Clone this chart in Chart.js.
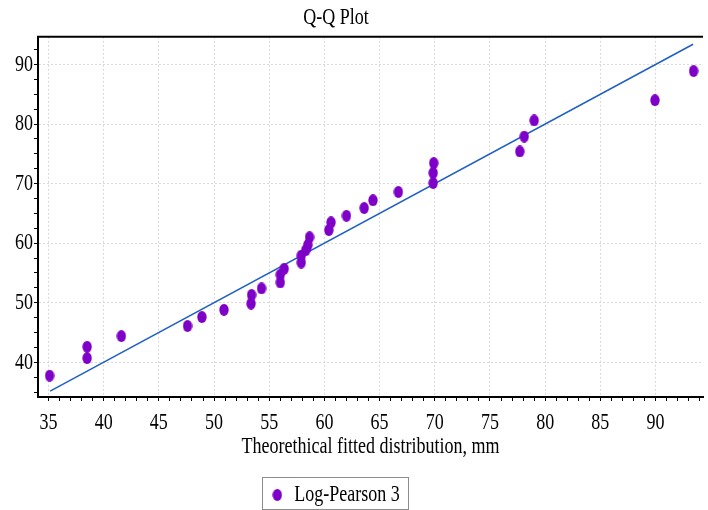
<!DOCTYPE html>
<html>
<head>
<meta charset="utf-8">
<script src="https://cdn.jsdelivr.net/npm/chart.js@4/dist/chart.umd.min.js"></script>
<style>
  html, body { margin: 0; padding: 0; background: #fff; }
  canvas { display: block; }
</style>
</head>
<body>
<canvas id="qq-chart" width="708" height="510"></canvas>
<script>
// theoretical quantiles (mm) and the observed values paired with them
const theoretical = [35.1, 38.5, 38.5, 41.6, 47.6, 48.9, 50.9, 53.35, 53.4, 54.3, 56.0, 56.0, 56.35, 57.9, 57.9, 58.3,
    58.5, 58.65, 60.4, 60.6, 62.0, 63.6, 64.4, 66.7, 69.85, 69.85, 69.9, 77.7, 78.1, 79.0, 89.95, 93.45];
const observed = [37.75, 40.7, 42.6, 44.4, 46.1, 47.6, 48.8, 49.85, 51.3, 52.4, 53.4, 54.7, 55.7, 56.75, 57.9, 58.8,
    59.7, 61.0, 62.2, 63.5, 64.6, 65.9, 67.2, 68.6, 70.1, 71.8, 73.45, 75.4, 77.9, 80.6, 84.0, 88.9];

// ends of the y = x reference line
const fitLine = [35.15, 93.4];

const xLabels = [35, 40, 45, 50, 55, 60, 65, 70, 75, 80, 85, 90];
const yLabels = [40, 50, 60, 70, 80, 90];

const POINT_COLOR = '#7e00c8';
const LINE_COLOR = '#1f5fc4';
const FONT = { family: '"Liberation Serif", "Times New Roman", serif', size: 24 };
const SQUEEZE = 0.75; // narrow serif look
const HEADER_CENTER = 336; // title and legend sit left of the plot centre

const canvas = document.getElementById('qq-chart');
const ctx = canvas.getContext('2d');

// draw all text horizontally condensed, and report widths to match
const nativeFill = ctx.fillText.bind(ctx);
const nativeMeasure = ctx.measureText.bind(ctx);
ctx.fillText = function (text, x, y, maxWidth) {
    this.save();
    this.translate(x, y);
    this.scale(SQUEEZE, 1);
    if (maxWidth !== undefined) nativeFill(text, 0, 0, maxWidth / SQUEEZE);
    else nativeFill(text, 0, 0);
    this.restore();
};
ctx.measureText = function (text) {
    const m = nativeMeasure(text);
    return {
        width: m.width * SQUEEZE,
        actualBoundingBoxAscent: m.actualBoundingBoxAscent,
        actualBoundingBoxDescent: m.actualBoundingBoxDescent,
        actualBoundingBoxLeft: m.actualBoundingBoxLeft * SQUEEZE,
        actualBoundingBoxRight: m.actualBoundingBoxRight * SQUEEZE
    };
};

// slightly tall oval marker
function makeMarker() {
    const c = document.createElement('canvas');
    c.width = 10;
    c.height = 12;
    const g = c.getContext('2d');
    g.fillStyle = POINT_COLOR;
    g.beginPath();
    g.ellipse(5, 6, 4.7, 5.9, 0, 0, Math.PI * 2);
    g.fill();
    return c;
}
const marker = makeMarker();

function stepTicks(from, to, step) {
    const out = [];
    for (let v = from; v <= to + 1e-9; v += step) out.push({ value: +v.toFixed(3) });
    return out;
}

const frame = {
    id: 'frame',
    afterLayout(chart) {
        // shift title and legend so they centre on HEADER_CENTER
        [chart.titleBlock, chart.legend].forEach(box => {
            if (!box) return;
            box.left = 0;
            box.right = HEADER_CENTER * 2;
        });
    },
    afterDraw(chart) {
        const { ctx, chartArea } = chart;
        ctx.save();
        ctx.strokeStyle = '#000';
        ctx.lineWidth = 2;
        ctx.beginPath();
        ctx.moveTo(chartArea.left - 1, chartArea.top);
        ctx.lineTo(chartArea.right, chartArea.top);
        ctx.stroke();

        // box round the legend
        const lg = chart.legend;
        if (lg && lg.legendHitBoxes && lg.legendHitBoxes.length) {
            const hb = lg.legendHitBoxes[0];
            ctx.strokeStyle = '#8c8c8c';
            ctx.lineWidth = 1;
            ctx.strokeRect(Math.round(hb.left) - 9.5, 477.5, Math.round(hb.width) + 19, 32);
        }
        ctx.restore();
    }
};

new Chart(ctx, {
    type: 'scatter',
    data: {
        datasets: [
            {
                label: 'Log-Pearson 3',
                data: theoretical.map((x, i) => ({ x: x, y: observed[i] })),
                pointStyle: marker,
                backgroundColor: POINT_COLOR,
                borderColor: POINT_COLOR,
                order: 1
            },
            {
                label: 'fit',
                type: 'line',
                data: fitLine.map(v => ({ x: v, y: v })),
                borderColor: LINE_COLOR,
                borderWidth: 1.5,
                pointRadius: 0,
                fill: false,
                order: 2
            }
        ]
    },
    options: {
        responsive: false,
        animation: false,
        // legend sits low, its spare margin runs off the bottom edge
        layout: { padding: { top: 0, left: 0, right: 0, bottom: -7 } },
        plugins: {
            title: {
                display: true,
                text: 'Q-Q Plot',
                color: '#000',
                font: { ...FONT, weight: 'normal' },
                padding: { top: 3, bottom: 5 }
            },
            legend: {
                position: 'bottom',
                labels: {
                    usePointStyle: true,
                    boxWidth: 10,
                    boxHeight: 12,
                    color: '#000',
                    font: FONT,
                    padding: 0,
                    filter: item => item.text === 'Log-Pearson 3'
                }
            },
            tooltip: { enabled: false }
        },
        scales: {
            x: {
                type: 'linear',
                min: 34.05,
                max: 94.3,
                afterBuildTicks: scale => { scale.ticks = stepTicks(35, 94, 1); },
                afterFit: scale => { scale.height = 86; },
                ticks: {
                    autoSkip: false,
                    maxRotation: 0,
                    padding: 7,
                    color: '#000',
                    font: FONT,
                    callback: v => xLabels.includes(v) ? String(v) : ''
                },
                grid: {
                    color: c => c.tick && xLabels.includes(c.tick.value) ? '#d9d9d9' : 'rgba(0,0,0,0)',
                    tickColor: '#000',
                    tickLength: 4
                },
                border: { color: '#000', width: 2, dash: [2, 2] },
                title: {
                    display: true,
                    text: 'Theorethical fitted distribution, mm',
                    color: '#000',
                    font: FONT,
                    padding: { top: 0, bottom: 22 }
                }
            },
            y: {
                type: 'linear',
                min: 34.17,
                max: 94.65,
                afterBuildTicks: scale => { scale.ticks = stepTicks(35, 92.5, 2.5); },
                afterFit: scale => { scale.width = 38; },
                ticks: {
                    autoSkip: false,
                    padding: 1,
                    color: '#000',
                    font: FONT,
                    callback: v => yLabels.includes(v) ? String(v) : ''
                },
                grid: {
                    color: c => c.tick && yLabels.includes(c.tick.value) ? '#d9d9d9' : 'rgba(0,0,0,0)',
                    tickColor: '#000',
                    tickLength: 4
                },
                border: { color: '#000', width: 2, dash: [2, 2] }
            }
        }
    },
    plugins: [frame]
});
</script>
</body>
</html>
